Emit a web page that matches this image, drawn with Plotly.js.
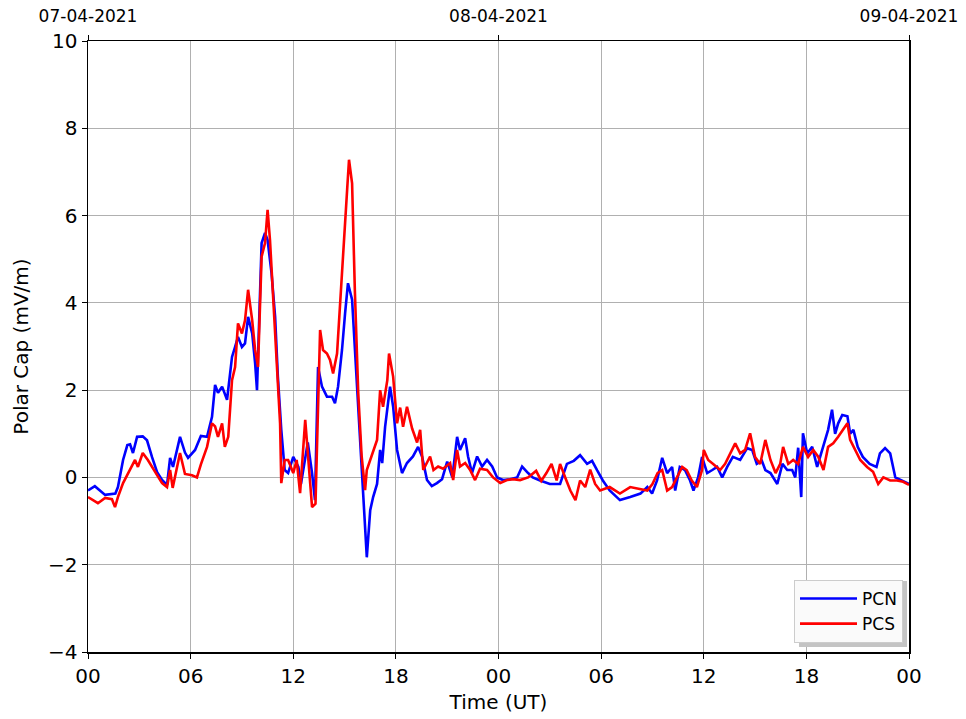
<!DOCTYPE html>
<html>
<head>
<meta charset="utf-8">
<script src="https://cdn.plot.ly/plotly-3.0.1.min.js"></script>
<style>html,body{margin:0;padding:0;background:#fff;}#chart{width:966px;height:719px;}</style>
</head>
<body>
<div id="chart"></div>
<script>
// Hours since 07-04-2021 00:00 UT
const pcnHours = [0.0,0.4,1.0,1.6,1.75,2.05,2.3,2.46,2.63,2.87,3.2,3.45,3.74,4.04,4.33,4.62,4.8,4.97,5.38,5.67,5.85,6.26,6.6,6.96,7.25,7.43,7.6,7.84,8.13,8.42,8.6,8.77,9.0,9.18,9.36,9.6,9.77,9.88,10.15,10.35,10.5,10.73,10.94,11.1,11.3,11.5,11.7,12.0,12.3,12.45,12.85,13.1,13.27,13.45,13.68,13.97,14.27,14.44,14.62,14.85,15.03,15.2,15.44,15.6,15.8,16.0,16.14,16.3,16.5,16.67,16.9,17.08,17.2,17.37,17.66,17.84,18.07,18.36,18.65,19.0,19.3,19.53,19.82,20.1,20.4,20.7,21.0,21.3,21.58,21.75,22.05,22.22,22.45,22.75,23.04,23.33,23.63,23.92,24.27,24.68,25.09,25.38,25.73,26.0,26.43,27.0,27.6,28.0,28.4,28.77,29.18,29.47,29.77,30.1,30.5,31.1,31.7,32.3,32.7,32.98,33.27,33.57,33.86,34.15,34.33,34.6,34.9,35.2,35.4,35.67,35.9,36.2,36.5,36.78,37.08,37.37,37.7,38.13,38.54,38.83,39.1,39.4,39.6,39.9,40.3,40.6,40.88,41.17,41.35,41.52,41.7,41.8,42.05,42.34,42.63,42.92,43.1,43.27,43.5,43.68,43.86,44.1,44.4,44.56,44.75,45.0,45.3,45.7,46.1,46.3,46.6,46.9,47.2,47.6,48.0];
const pcnValues = [-0.3,-0.2,-0.4,-0.37,-0.22,0.4,0.74,0.76,0.56,0.93,0.94,0.85,0.47,0.12,-0.06,-0.17,0.45,0.24,0.93,0.57,0.45,0.63,0.95,0.93,1.39,2.12,1.94,2.08,1.78,2.76,2.99,3.22,2.99,3.07,3.68,3.3,2.62,2.0,5.37,5.6,5.44,4.68,3.68,2.31,1.09,0.17,0.1,0.47,0.24,-0.15,0.8,0.1,-0.52,2.53,2.08,1.85,1.85,1.7,2.08,2.92,3.76,4.45,4.07,2.99,1.62,0.4,-0.52,-1.83,-0.75,-0.45,-0.15,0.63,0.33,1.16,2.08,1.62,0.63,0.1,0.33,0.48,0.7,0.48,-0.06,-0.2,-0.13,-0.04,0.36,0.0,0.93,0.63,0.9,0.48,0.1,0.48,0.25,0.4,0.25,0.0,-0.06,-0.04,0.0,0.25,0.1,0.0,-0.07,-0.15,-0.15,0.31,0.38,0.51,0.31,0.38,0.16,-0.07,-0.3,-0.52,-0.45,-0.37,-0.22,-0.37,-0.07,0.45,0.1,0.24,-0.3,0.24,0.17,-0.07,-0.3,0.0,0.47,0.1,0.17,0.24,0.0,0.24,0.47,0.4,0.67,0.63,0.31,0.38,0.17,0.1,-0.15,0.31,0.17,0.17,0.0,0.68,-0.45,1.01,0.55,0.7,0.24,0.63,0.86,1.09,1.55,1.0,1.24,1.43,1.4,1.0,1.09,0.7,0.47,0.31,0.24,0.55,0.67,0.55,0.0,-0.07,-0.15];

const pcsHours = [0.0,0.58,1.0,1.4,1.58,1.75,2.05,2.46,2.75,2.92,3.2,3.5,3.92,4.33,4.62,4.8,4.95,5.38,5.67,6.08,6.37,6.6,6.96,7.25,7.43,7.6,7.84,8.0,8.2,8.42,8.6,8.77,9.0,9.18,9.36,9.6,9.77,9.94,10.15,10.35,10.5,10.64,10.8,11.0,11.23,11.3,11.5,11.7,12.0,12.2,12.4,12.7,12.87,13.1,13.3,13.57,13.74,13.97,14.15,14.33,14.56,14.74,14.9,15.15,15.26,15.44,15.6,15.8,16.0,16.2,16.3,16.5,16.67,16.9,17.08,17.25,17.5,17.6,17.84,18.07,18.25,18.42,18.65,18.95,19.24,19.42,19.6,20.0,20.2,20.47,20.76,21.17,21.35,21.58,21.75,22.05,22.34,22.63,22.92,23.33,23.68,24.1,24.5,24.85,25.26,25.73,26.2,26.5,26.8,27.1,27.4,27.6,27.9,28.2,28.5,28.77,29.07,29.36,29.65,29.94,30.5,31.1,31.7,32.3,32.7,33.0,33.3,33.57,33.86,34.15,34.45,34.74,35.0,35.3,35.6,35.9,36.0,36.26,36.55,36.96,37.25,37.54,37.84,38.13,38.42,38.71,39.0,39.3,39.6,39.9,40.2,40.47,40.64,40.94,41.23,41.52,41.8,42.1,42.4,42.7,43.0,43.27,43.57,43.86,44.15,44.4,44.56,44.85,45.15,45.55,45.9,46.2,46.5,46.9,47.3,47.66,48.0];
const pcsValues = [-0.45,-0.59,-0.47,-0.5,-0.68,-0.45,-0.13,0.17,0.4,0.24,0.56,0.4,0.12,-0.13,-0.22,0.17,-0.24,0.56,0.08,0.05,0.0,0.3,0.7,1.24,1.17,0.93,1.24,0.7,0.93,2.23,2.53,3.53,3.3,3.6,4.3,3.6,2.92,2.53,5.06,5.37,6.13,5.44,4.3,2.99,1.24,-0.13,0.4,0.4,0.1,0.4,-0.36,1.32,0.4,-0.68,-0.6,3.38,2.92,2.84,2.69,2.38,2.84,4.07,5.06,6.59,7.28,6.74,4.3,1.93,0.48,-0.29,0.17,0.4,0.55,0.86,2.0,1.62,2.23,2.84,2.31,1.24,1.6,1.16,1.62,1.12,0.8,1.09,0.17,0.48,0.17,0.25,0.2,0.33,-0.06,0.63,0.25,0.33,0.17,-0.06,0.2,0.17,0.0,-0.13,-0.06,-0.04,-0.06,0.0,0.15,-0.08,0.1,0.31,-0.07,0.31,0.0,-0.3,-0.52,-0.07,-0.22,0.18,-0.15,-0.3,-0.22,-0.37,-0.22,-0.26,-0.3,-0.15,0.1,0.17,-0.3,-0.22,0.0,0.24,0.17,-0.07,-0.22,0.17,0.63,0.4,0.31,0.17,0.31,0.55,0.78,0.55,0.63,1.01,0.47,0.31,0.86,0.4,0.1,0.31,0.7,0.31,0.4,0.31,0.7,0.47,0.63,0.47,0.17,0.7,0.78,0.93,1.09,1.24,0.86,0.63,0.4,0.24,0.13,-0.15,0.0,-0.07,-0.07,-0.1,-0.17];

const bottomTickVals = [0,6,12,18,24,30,36,42,48];
const bottomTickText = ['00','06','12','18','00','06','12','18','00'];
const topTickVals = [0,24,48];
const topTickText = ['07-04-2021','08-04-2021','09-04-2021'];
const yTickVals = [-4,-2,0,2,4,6,8,10];

const font = 'DejaVu Sans, sans-serif';

const traces = [
  {x: pcnHours, y: pcnValues, type: 'scatter', mode: 'lines', name: 'PCN',
   line: {color: '#0000ff', width: 2.6}},
  {x: pcsHours, y: pcsValues, type: 'scatter', mode: 'lines', name: 'PCS',
   line: {color: '#ff0000', width: 2.6}},
  {x: [], y: [], xaxis: 'x2', type: 'scatter', mode: 'lines', showlegend: false, hoverinfo: 'skip'}
];

const layout = {
  width: 966, height: 719,
  margin: {l: 88, r: 57, t: 41, b: 67},
  paper_bgcolor: '#ffffff', plot_bgcolor: '#ffffff',
  font: {family: font, color: '#000'},
  showlegend: true,
  xaxis: {
    range: [0, 48], tickmode: 'array', tickvals: bottomTickVals, ticktext: bottomTickText,
    ticks: 'outside', ticklen: 5, tickwidth: 1, tickcolor: '#000',
    showline: true, linecolor: '#000', linewidth: 1.5, mirror: true,
    showgrid: true, gridcolor: '#b0b0b0', gridwidth: 1, zeroline: false,
    tickfont: {family: font, size: 20},
    title: {text: 'Time (UT)', font: {family: font, size: 20}, standoff: 8}
  },
  xaxis2: {
    overlaying: 'x', side: 'top', anchor: 'y',
    range: [0, 48], tickmode: 'array', tickvals: topTickVals, ticktext: topTickText,
    ticks: 'outside', ticklen: 5, tickcolor: '#000', showgrid: false, showline: false, zeroline: false,
    ticklabelstandoff: 6,
    tickfont: {family: font, size: 17}
  },
  yaxis: {
    range: [-4, 10], tickmode: 'array', tickvals: yTickVals,
    ticks: 'outside', ticklen: 5, tickwidth: 1, tickcolor: '#000',
    showline: true, linecolor: '#000', linewidth: 1.5, mirror: true,
    showgrid: true, gridcolor: '#b0b0b0', gridwidth: 1, zeroline: false,
    tickfont: {family: font, size: 20},
    title: {text: 'Polar Cap (mV/m)', font: {family: font, size: 20}, standoff: 14}
  },
  legend: {
    x: 0.9927, y: 0.0147, xanchor: 'right', yanchor: 'bottom',
    bgcolor: 'rgba(250,250,250,1)', bordercolor: '#cccccc', borderwidth: 1,
    itemwidth: 57,
    font: {family: font, size: 17}
  },
  shapes: [
    {type: 'rect', xref: 'paper', yref: 'paper', x0: 0.866, x1: 0.9976, y0: 0.008, y1: 0.116,
     fillcolor: '#c4c4c4', line: {width: 0}, layer: 'above'}
  ]
};

Plotly.newPlot('chart', traces, layout, {displayModeBar: false, staticPlot: true});
</script>
</body>
</html>
